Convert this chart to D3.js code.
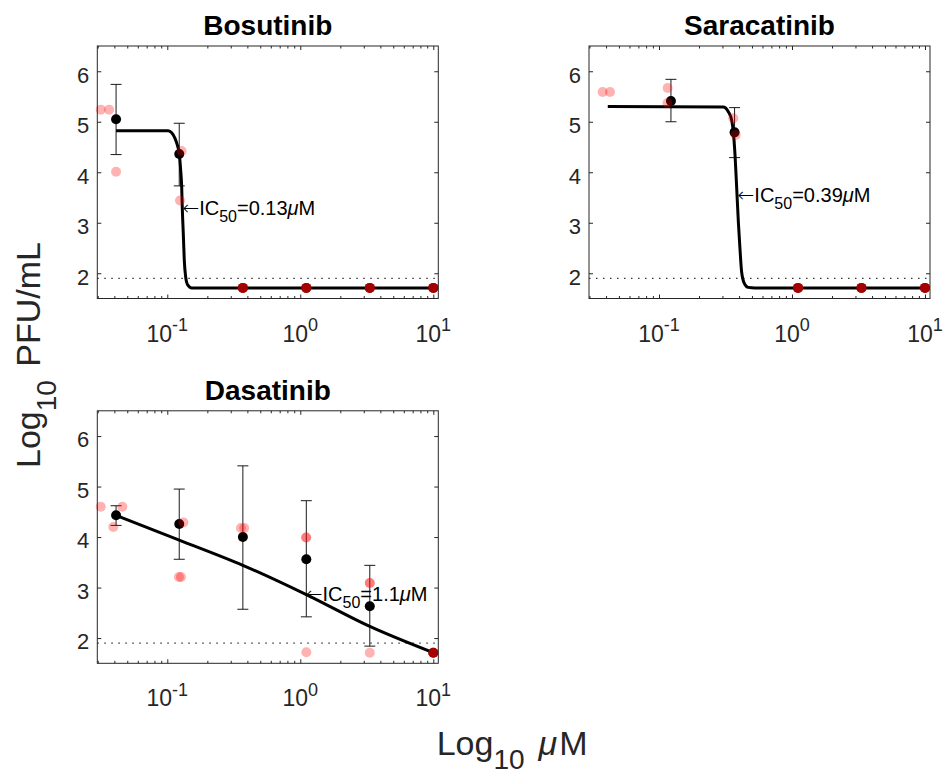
<!DOCTYPE html>
<html>
<head>
<meta charset="utf-8">
<script src="https://cdn.jsdelivr.net/npm/d3@7"></script>
<style>
  body { margin: 0; background: #fff; }
  svg { display: block; font-family: "Liberation Sans", Arial, Helvetica, sans-serif; }
  text { white-space: pre; }
</style>
</head>
<body>
<svg id="chart" width="945" height="776"></svg>
<script>
// ---------------- DATA ----------------
const drugNames = ["Bosutinib", "Saracatinib", "Dasatinib"];
const concentrations = [0.0412, 0.123, 0.37, 1.11, 3.33, 10];
const yTicks = [2, 3, 4, 5, 6];
const xTicks = [0.1, 1, 10];
const xTickBase = ["10", "10", "10"];
const xTickExponents = ["-1", "0", "1"];
const lodLevel = 1.9;

const ic50Values = [0.13, 0.39, 1.1];
const ic50Texts = ["0.13", "0.39", "1.1"];
const ic50ArrowY = [3.27, 3.52, 2.86];

// Bosutinib
const bosMeans = [5.05, 4.36, 1.71, 1.71, 1.71, 1.71];
const bosErrLow = [4.35, 3.73, null, null, null, null];
const bosErrHigh = [5.74, 4.97, null, null, null, null];
const bosReps = [
  [0.0316, 5.24], [0.0365, 5.24], [0.0412, 4.01],
  [0.128, 4.42], [0.1246, 3.44],
  [0.37, 1.71], [0.37, 1.71], [0.37, 1.71],
  [1.11, 1.71], [1.11, 1.71], [1.11, 1.71],
  [3.33, 1.71], [3.33, 1.71], [3.33, 1.71],
  [10, 1.71], [10, 1.71], [10, 1.71]
];
const bosFit = [
  [0.0412, 4.82], [0.1017, 4.82], [0.1079, 4.78], [0.1143, 4.67], [0.1189, 4.54],
  [0.1230, 4.37], [0.1261, 4.04], [0.1283, 3.71], [0.1297, 3.27], [0.1319, 2.79],
  [0.1342, 2.26], [0.1374, 1.93], [0.1423, 1.77], [0.1525, 1.71], [10, 1.71]
];

// Saracatinib
const saraMeans = [null, 5.41, 4.79, 1.71, 1.71, 1.71];
const saraErrLow = [null, 5.00, 4.29, null, null, null];
const saraErrHigh = [null, 5.84, 5.28, null, null, null];
const saraReps = [
  [0.0377, 5.59], [0.0428, 5.59],
  [0.1162, 5.67], [0.1159, 5.37],
  [0.362, 5.07], [0.377, 4.74],
  [1.11, 1.71], [1.11, 1.71], [1.11, 1.71],
  [3.33, 1.71], [3.33, 1.71], [3.33, 1.71],
  [10, 1.71], [10, 1.71], [10, 1.71]
];
const saraFit = [
  [0.0412, 5.30], [0.304, 5.29], [0.332, 5.20], [0.352, 5.03], [0.362, 4.80],
  [0.373, 4.34], [0.384, 3.68], [0.395, 3.02], [0.406, 2.50], [0.418, 2.03],
  [0.438, 1.80], [0.469, 1.72], [0.527, 1.71], [10, 1.71]
];

// Dasatinib
const dasaMeans = [4.43, 4.26, 4.00, 3.56, 2.63, 1.71];
const dasaErrLow = [4.23, 3.56, 2.57, 2.42, 1.84, null];
const dasaErrHigh = [4.62, 4.95, 5.41, 4.72, 3.44, null];
const dasaReps = [
  [0.0316, 4.60], [0.0459, 4.60], [0.0393, 4.20],
  [0.132, 4.29], [0.1224, 3.21], [0.1267, 3.21],
  [0.358, 4.18], [0.379, 4.18],
  [1.107, 3.99], [1.107, 3.99], [1.11, 1.72],
  [3.33, 3.09], [3.33, 3.09], [3.33, 1.71],
  [10, 1.71], [10, 1.71], [10, 1.71]
];
const dasaFit = [
  [0.0412, 4.43], [0.123, 3.94], [0.37, 3.44], [1.11, 2.86], [3.33, 2.23], [10, 1.71]
];

// ---------------- LAYOUT ----------------
const W = 341, H = 252.5;
const panelPos = [[97.3, 46], [589, 46], [97.3, 410.8]];
const axisColor = "#262626";
const xDomain = [0.02977, 10.904];
const yDomain = [1.5, 6.5];

const panels = drugNames.map((name, i) => ({
  name,
  means: [bosMeans, saraMeans, dasaMeans][i],
  lo: [bosErrLow, saraErrLow, dasaErrLow][i],
  hi: [bosErrHigh, saraErrHigh, dasaErrHigh][i],
  reps: [bosReps, saraReps, dasaReps][i],
  fit: [bosFit, saraFit, dasaFit][i],
  ic50: ic50Values[i],
  ic50Text: ic50Texts[i],
  ic50Y: ic50ArrowY[i]
}));

const svg = d3.select("#chart");

panels.forEach((p, i) => {
  const g = svg.append("g").attr("transform", `translate(${panelPos[i][0]},${panelPos[i][1]})`);
  const x = d3.scaleLog().domain(xDomain).range([0, W]);
  const y = d3.scaleLinear().domain(yDomain).range([H, 0]);

  // limit of detection
  g.append("line")
    .attr("x1", 0).attr("x2", W)
    .attr("y1", y(lodLevel)).attr("y2", y(lodLevel))
    .attr("stroke", "#000").attr("stroke-width", 1)
    .attr("stroke-dasharray", "1.5,5.5");

  // error bars
  const eb = concentrations.map((c, k) => ({ c, lo: p.lo[k], hi: p.hi[k] })).filter(d => d.lo != null);
  const ebg = g.append("g").attr("stroke", "#1a1a1a").attr("stroke-width", 1);
  ebg.selectAll("line.v").data(eb).join("line")
    .attr("x1", d => x(d.c)).attr("x2", d => x(d.c))
    .attr("y1", d => y(d.lo)).attr("y2", d => y(d.hi));
  ebg.selectAll("line.t").data(eb).join("line")
    .attr("x1", d => x(d.c) - 5.5).attr("x2", d => x(d.c) + 5.5)
    .attr("y1", d => y(d.hi)).attr("y2", d => y(d.hi));
  ebg.selectAll("line.b").data(eb).join("line")
    .attr("x1", d => x(d.c) - 5.5).attr("x2", d => x(d.c) + 5.5)
    .attr("y1", d => y(d.lo)).attr("y2", d => y(d.lo));

  // fitted curve
  g.append("path").datum(p.fit)
    .attr("d", d3.line().x(d => x(d[0])).y(d => y(d[1])).curve(d3.curveMonotoneX))
    .attr("fill", "none").attr("stroke", "#000").attr("stroke-width", 3)
    .attr("stroke-linejoin", "round");

  // means
  const meanData = concentrations.map((c, k) => [c, p.means[k]]).filter(d => d[1] != null);
  g.append("g").selectAll("circle").data(meanData).join("circle")
    .attr("cx", d => x(d[0])).attr("cy", d => y(d[1])).attr("r", 5)
    .attr("fill", "#000");

  // replicates
  g.append("g").selectAll("circle").data(p.reps).join("circle")
    .attr("cx", d => x(d[0])).attr("cy", d => y(d[1])).attr("r", 5)
    .attr("fill", "rgb(255,0,0)").attr("fill-opacity", 0.3);

  // IC50 annotation
  const ann = g.append("text")
    .attr("x", x(p.ic50)).attr("y", y(p.ic50Y) + 6)
    .attr("font-size", 20).attr("fill", "#000");
  ann.append("tspan").attr("font-family", "DejaVu Sans").attr("font-weight", 200).text("\u2190");
  ann.append("tspan").text("IC");
  ann.append("tspan").attr("font-size", 16).attr("dy", 7).text("50");
  ann.append("tspan").attr("dy", -7).text("=" + p.ic50Text);
  ann.append("tspan").attr("font-style", "italic").text("\u03bc");
  ann.append("tspan").text("M");

  // box
  g.append("rect").attr("width", W).attr("height", H)
    .attr("fill", "none").attr("stroke", axisColor).attr("stroke-width", 1);

  // ticks
  const isMajor = v => Math.abs(Math.log10(v) - Math.round(Math.log10(v))) < 1e-6;
  const minorTicks = x.ticks().filter(v => !isMajor(v));
  const clean = sel => sel.call(a => a.select(".domain").remove()).attr("color", axisColor);

  g.append("g").attr("transform", `translate(0,${H})`)
    .call(d3.axisBottom(x).tickValues(xTicks).tickSize(-4).tickFormat("")).call(clean);
  g.append("g").attr("transform", `translate(0,${H})`)
    .call(d3.axisBottom(x).tickValues(minorTicks).tickSize(-2.5).tickFormat("")).call(clean);
  g.append("g")
    .call(d3.axisTop(x).tickValues(xTicks).tickSize(-4).tickFormat("")).call(clean);
  g.append("g")
    .call(d3.axisTop(x).tickValues(minorTicks).tickSize(-2.5).tickFormat("")).call(clean);

  const yl = g.append("g")
    .call(d3.axisLeft(y).tickValues(yTicks).tickSize(-4).tickPadding(8).tickFormat(d3.format("d")))
    .call(clean);
  yl.selectAll("text").attr("font-size", 22).attr("font-family", null).attr("fill", axisColor).attr("dy", "0.49em");
  g.append("g").attr("transform", `translate(${W},0)`)
    .call(d3.axisRight(y).tickValues(yTicks).tickSize(-4).tickFormat("")).call(clean);

  // x tick labels (10^n)
  xTicks.forEach((v, k) => {
    const t = g.append("text")
      .attr("x", x(v)).attr("y", H + 43)
      .attr("text-anchor", "middle").attr("font-size", 23).attr("fill", axisColor);
    t.append("tspan").text(xTickBase[k]);
    t.append("tspan").attr("font-size", 18).attr("dy", -10.5).text(xTickExponents[k]);
  });

  // title
  g.append("text")
    .attr("x", W / 2).attr("y", -11)
    .attr("text-anchor", "middle").attr("font-size", 28).attr("font-weight", "bold")
    .attr("fill", "#000").text(p.name);
});

// axis titles
const xl = svg.append("text").attr("x", 436.7).attr("y", 755)
  .attr("font-size", 34).attr("fill", axisColor);
xl.append("tspan").text("Log");
xl.append("tspan").attr("font-size", 28).attr("dy", 14).text("10");
xl.append("tspan").attr("dy", -14).attr("dx", 14).attr("font-style", "italic").text("\u03bc");
xl.append("tspan").attr("dx", 2).text("M");

const ylab = svg.append("text").attr("transform", "translate(40,468) rotate(-90)")
  .attr("font-size", 34).attr("fill", axisColor);
ylab.append("tspan").text("Log");
ylab.append("tspan").attr("font-size", 28).attr("dy", 16).text("10");
ylab.append("tspan").attr("dy", -16).attr("dx", 4).text(" PFU/mL");
</script>
</body>
</html>
